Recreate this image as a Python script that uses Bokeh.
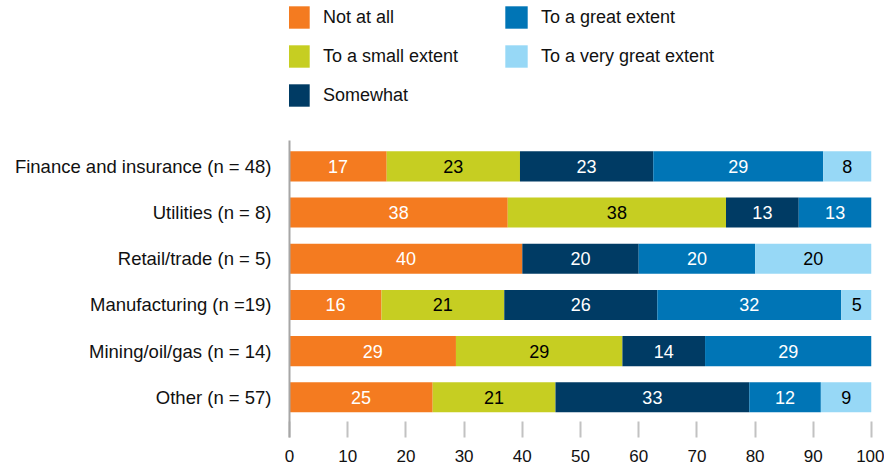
import numpy as np
from bokeh.plotting import figure
from bokeh.layouts import column
from bokeh.models import Range1d, FixedTicker, Legend, LegendItem, ColumnDataSource
from bokeh.embed import file_html
from bokeh.resources import INLINE
from bokeh.core.properties import value

categories = ["Finance and insurance (n = 48)", "Utilities (n = 8)", "Retail/trade (n = 5)",
              "Manufacturing (n =19)", "Mining/oil/gas (n = 14)", "Other (n = 57)"]
series_names = ["Not at all", "To a small extent", "Somewhat", "To a great extent", "To a very great extent"]
not_at_all = [16.7, 37.5, 40.0, 15.8, 28.6, 24.6]
small_extent = [22.9, 37.5, 0.0, 21.1, 28.6, 21.1]
somewhat = [22.9, 12.5, 20.0, 26.3, 14.2, 33.3]
great_extent = [29.2, 12.5, 20.0, 31.6, 28.6, 12.3]
very_great_extent = [8.3, 0.0, 20.0, 5.3, 0.0, 8.7]
x_ticks = [0, 10, 20, 30, 40, 50, 60, 70, 80, 90, 100]

colors = ["#F47B20", "#C6CE22", "#003B64", "#0075B6", "#97D8F6"]
label_colors = ["white", "black", "white", "white", "black"]
FONT = "Liberation Sans"

series = [not_at_all, small_extent, somewhat, great_extent, very_great_extent]
n = len(categories)
ypos = np.arange(n)

# ---- legend strip on top (its proxy bars have zero height and lie outside its view) ----
pl = figure(width=884, height=140, output_backend="svg", toolbar_location=None,
            x_range=Range1d(0, 100), y_range=Range1d(50, 51), x_axis_type=None, y_axis_type=None,
            min_border=0)
pl.outline_line_color = None
pl.grid.visible = False

# ---- main chart ----
p = figure(width=884, height=328, output_backend="svg", toolbar_location=None,
           x_range=Range1d(0, 100), y_range=Range1d(n - 1 + 0.87, -0.56),
           min_border_left=289, min_border_right=13, min_border_top=0, min_border_bottom=31)
p.outline_line_color = None
p.grid.visible = False
p.background_fill_color = "white"
p.border_fill_color = "white"

left = np.zeros(n)
items = []
for name, vals, col, lcol in zip(series_names, series, colors, label_colors):
    vals = np.array(vals, dtype=float)
    right = left + vals
    src = ColumnDataSource(dict(y=ypos, left=left, right=right))
    p.hbar(y="y", left="left", right="right", height=0.65, source=src,
           fill_color=col, line_color=None)
    rl = pl.hbar(y="y", left="left", right="right", height=0, source=src,
                 fill_color=col, line_color=None)
    items.append(LegendItem(label=name, renderers=[rl]))
    mask = vals > 0
    tsrc = ColumnDataSource(dict(x=((left + right) / 2)[mask], y=ypos[mask],
                                 t=[f"{int(v + 0.5)}" for v in vals[mask]]))
    p.text(x="x", y="y", text="t", source=tsrc, text_align="center", text_baseline="middle",
           text_color=lcol, text_font=value(FONT), text_font_size="18px")
    left = right

legend = Legend(items=items, orientation="vertical", nrows=3, location=(-5, 31),
                glyph_width=28, glyph_height=28, label_standoff=11, spacing=11,
                label_width=168, padding=0, margin=0,
                label_text_font=FONT, label_text_font_size="18px", label_text_color="#111111",
                border_line_color=None, background_fill_alpha=0)
pl.add_layout(legend, "center")

xa = p.xaxis[0]
xa.ticker = FixedTicker(ticks=x_ticks)
xa.axis_line_color = None
xa.major_tick_in = 16
xa.major_tick_out = 0
xa.major_tick_line_color = "#c2c2c2"
xa.major_tick_line_width = 2
xa.minor_tick_line_color = None
xa.major_label_standoff = 12
xa.major_label_text_font = FONT
xa.major_label_text_font_size = "17px"
xa.major_label_text_color = "#111111"

ya = p.yaxis[0]
ya.ticker = FixedTicker(ticks=list(ypos))
ya.major_label_overrides = {int(i): c for i, c in zip(ypos, categories)}
ya.axis_line_color = "#a6a6a6"
ya.axis_line_width = 2
ya.major_tick_line_color = None
ya.minor_tick_line_color = None
ya.major_tick_in = 0
ya.major_tick_out = 0
ya.major_label_standoff = 18
ya.major_label_text_font = FONT
ya.major_label_text_font_size = "18.5px"
ya.major_label_text_color = "#111111"

layout = column(pl, p, spacing=0)
open("out.html", "w").write(file_html(layout, INLINE))
